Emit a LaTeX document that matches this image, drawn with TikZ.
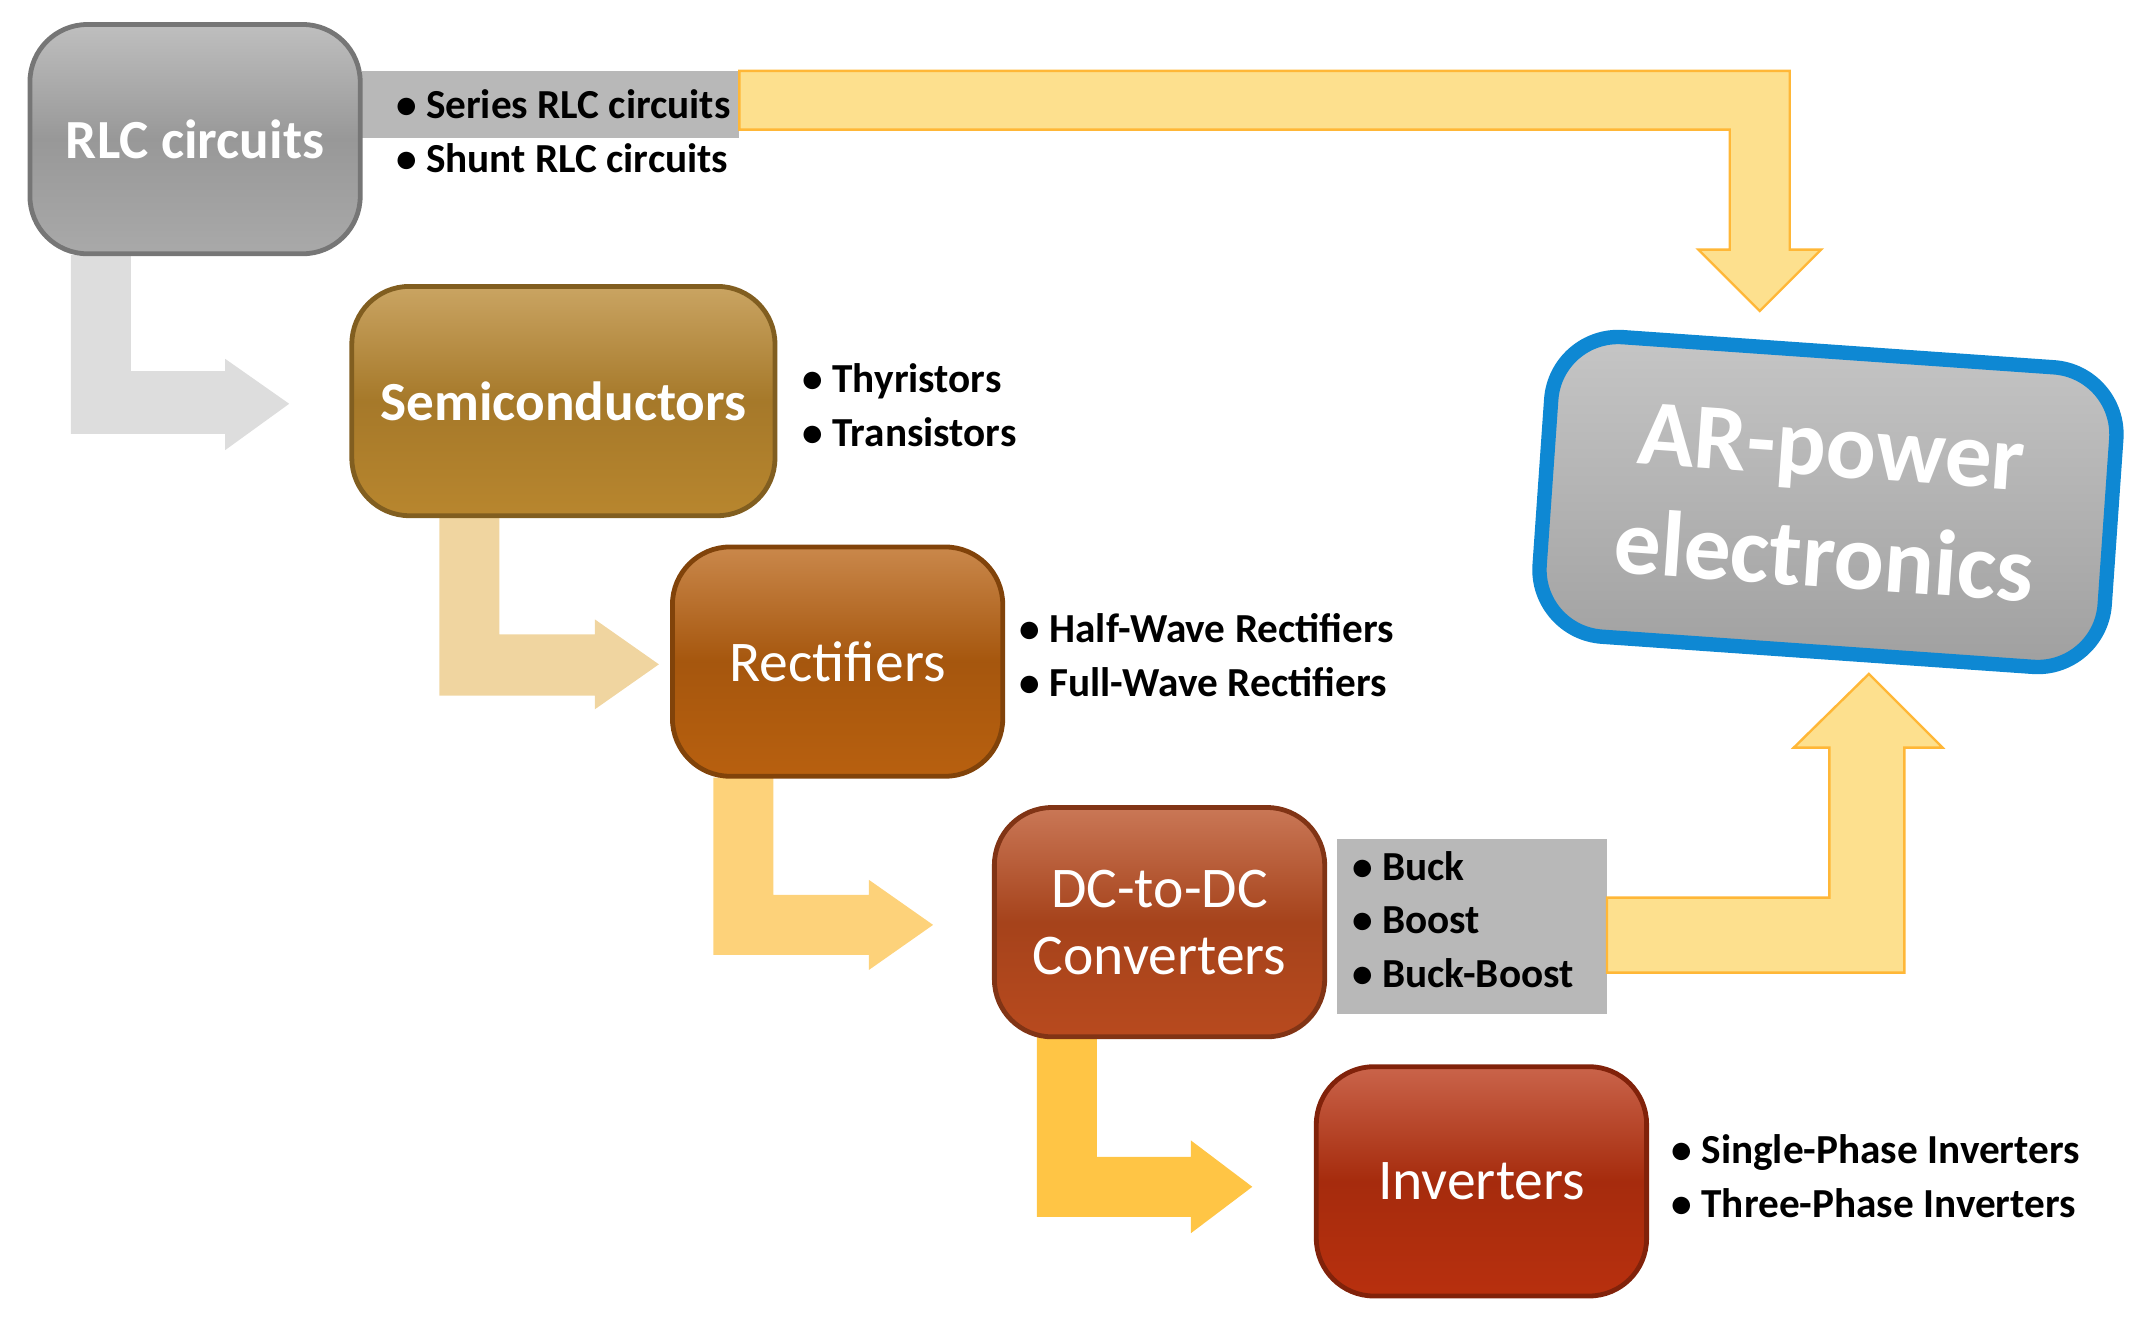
\documentclass[tikz,border=0pt]{standalone}
\usepackage{fontspec}
\setmainfont{Carlito}
\usetikzlibrary{shadings}
\definecolor{rlcgray}{HTML}{A9A9A9}
\definecolor{semigold}{HTML}{B8862E}
\definecolor{rectorange}{HTML}{B8600F}
\definecolor{dcred}{HTML}{B84A1E}
\definecolor{invred}{HTML}{B8300E}
\definecolor{pale}{HTML}{DDDDDD}
\definecolor{tan}{HTML}{F0D5A0}
\definecolor{amber}{HTML}{FDD27A}
\definecolor{gold}{HTML}{FFC545}
\definecolor{lemon}{HTML}{FDE08E}
\definecolor{strip}{HTML}{B8B8B8}
\tikzset{
  box/.style={rounded corners=12pt, draw=#1!70!black, line width=1pt,
    top color=#1!75!white, bottom color=#1, middle color=#1!90!black,
    text=white, font=\fontsize{11.5}{14}\selectfont\bfseries,
    minimum width=2.42cm, minimum height=1.68cm, align=center},
  list/.style={anchor=west, align=left, font=\fontsize{8.6}{11.2}\selectfont\bfseries},
  barrow/.style={fill=#1, draw=none}
}
\begin{document}
\begin{tikzpicture}[x=0.01cm,y=-0.01cm]
\useasboundingbox (0,0) rectangle (1568,973);
% block arrows
\fill[strip] (265,52) rectangle (542,101);
\fill[strip] (980,615) rectangle (1178,743);
\path[barrow=lemon, draw=gold!80!orange, line width=0.5pt] (542,52) -- (1312,52) -- (1312,183) -- (1335,183) -- (1290,228)
  -- (1245,183) -- (1268,183) -- (1268,95) -- (542,95) -- cycle;
\path[barrow=lemon, draw=gold!80!orange, line width=0.5pt] (1178,658) -- (1341,658) -- (1341,548) -- (1315,548) -- (1370,494)
  -- (1424,548) -- (1396,548) -- (1396,713) -- (1178,713) -- cycle;
\path[barrow=pale] (52,187) -- (96,187) -- (96,272) -- (165,272) -- (165,263) -- (212,296)
  -- (165,330) -- (165,318) -- (52,318) -- cycle;
\path[barrow=tan] (322,378) -- (366,378) -- (366,465) -- (436,465) -- (436,454) -- (483,487)
  -- (436,520) -- (436,510) -- (322,510) -- cycle;
\path[barrow=amber] (523,570) -- (567,570) -- (567,656) -- (637,656) -- (637,645) -- (684,678)
  -- (637,711) -- (637,700) -- (523,700) -- cycle;
\path[barrow=gold] (760,760) -- (804,760) -- (804,848) -- (873,848) -- (873,836) -- (918,870)
  -- (873,904) -- (873,892) -- (760,892) -- cycle;
% boxes
\node[box=rlcgray] (rlc) at (143,102) {RLC circuits};
\node[box=semigold, minimum width=3.1cm] (semi) at (413,294) {Semiconductors};
\node[box=rectorange, font=\fontsize{12}{14}\selectfont] (rect) at (614,485) {Rectifiers};
\node[box=dcred, font=\fontsize{12}{14}\selectfont] (dcdc) at (850,676) {DC-to-DC\\Converters};
\node[box=invred, font=\fontsize{12}{14}\selectfont] (inv) at (1086,866) {Inverters};
\node[rotate=-4, rounded corners=14pt, draw=cyan!70!blue, line width=3pt,
  top color=gray!45, bottom color=gray!75, text=white,
  font=\fontsize{19.5}{23}\selectfont\bfseries, align=center,
  minimum width=4.15cm, minimum height=2.2cm] (ar) at (1340,368) {AR-power\\electronics};
% lists
\node[list] (rlclist) at (278,96) {\textbullet\ Series RLC circuits\\\textbullet\ Shunt RLC circuits};
\node[list] (semilist) at (576,297) {\textbullet\ Thyristors\\\textbullet\ Transistors};
\node[list] (rectlist) at (735,480) {\textbullet\ Half-Wave Rectifiers\\\textbullet\ Full-Wave Rectifiers};
\node[list] (dclist) at (979,674) {\textbullet\ Buck\\\textbullet\ Boost\\\textbullet\ Buck-Boost};
\node[list] (invlist) at (1213,862) {\textbullet\ Single-Phase Inverters\\\textbullet\ Three-Phase Inverters};
\end{tikzpicture}
\end{document}
